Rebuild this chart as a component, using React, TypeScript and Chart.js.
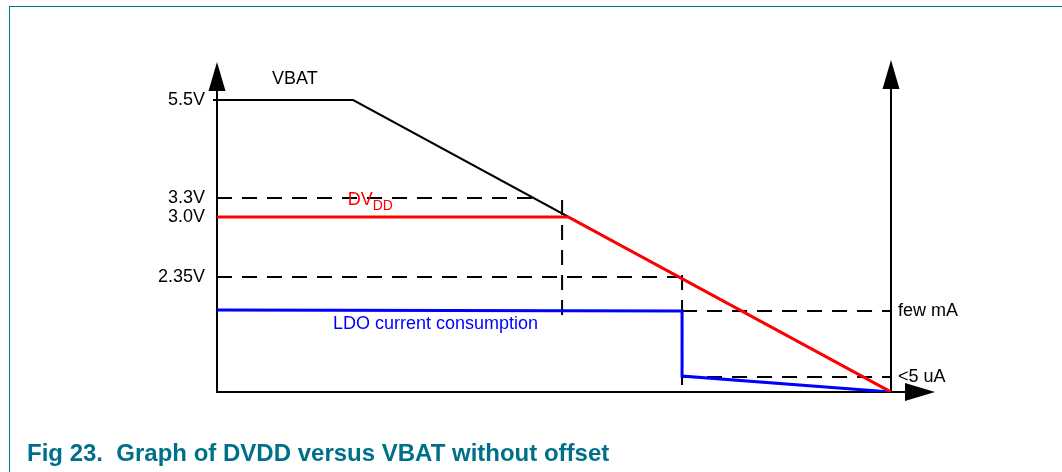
import React, { useEffect, useRef } from "react";
import { Chart, registerables } from "chart.js";

Chart.register(...registerables);

// ---- Data (diagram units: x 0..100 along time axis, y in level units above the x axis) ----
const vbatX = [0, 20.2, 100];
const vbatY = [292, 292, 0];
const dvddX = [0, 52.1, 100];
const dvddY = [175, 175, 0];
const ldoX = [0, 69.0, 69.0, 100];
const ldoY = [82, 81, 16, 0];

// dashed guide lines
const guide33X = [0, 47.0];
const guide33Y = [194, 194];
const guide235X = [0, 68.5];
const guide235Y = [115, 115];
const guideFewX = [69.0, 100];
const guideFewY = [81, 81];
const guide5uX = [69.0, 100];
const guide5uY = [15, 15];
const vGuide1X = [51.2, 51.2];
const vGuide1Y = [192, 71];
const vGuide2X = [69.0, 69.0];
const vGuide2Y = [117, 7];

// tick labels
const leftTickValues = [292, 194, 175, 115];
const leftTickLabels = ["5.5V", "3.3V", "3.0V", "2.35V"];
const rightTickValues = [81, 15];
const rightTickLabels = ["few mA", "<5 uA"];

// in-plot labels
const labelTexts = ["VBAT", "DV", "LDO current consumption"];
const labelSubs = ["", "DD", ""];
const labelX = [8.16, 19.4, 17.2];
const labelY = [312.5, 192, 67.5];
const labelColors = ["#000000", "#ff0000", "#0000ff"];

const caption = "Fig 23.\u00a0\u00a0Graph of DVDD versus VBAT without offset";

const FONT = "'Liberation Sans', Arial, sans-serif";
const FS = 18;

const pts = (xs: number[], ys: number[]) => xs.map((x, i) => ({ x, y: ys[i] }));

const diagramPlugin = {
  id: "diagram",
  beforeDatasetsDraw(chart: any) {
    const { ctx, chartArea } = chart;
    const { left, right, top, bottom } = chartArea;
    ctx.save();
    ctx.strokeStyle = "#000";
    ctx.fillStyle = "#000";
    ctx.lineWidth = 2;
    // left axis
    ctx.beginPath();
    ctx.moveTo(left, bottom);
    ctx.lineTo(left, top + 20);
    ctx.stroke();
    // right axis
    ctx.beginPath();
    ctx.moveTo(right, bottom);
    ctx.lineTo(right, top + 20);
    ctx.stroke();
    // x axis
    ctx.beginPath();
    ctx.moveTo(left - 1, bottom);
    ctx.lineTo(right + 20, bottom);
    ctx.stroke();
    // arrowheads
    const up = (x: number, y: number) => {
      ctx.beginPath();
      ctx.moveTo(x, y);
      ctx.lineTo(x - 8.5, y + 29);
      ctx.lineTo(x + 8.5, y + 29);
      ctx.closePath();
      ctx.fill();
    };
    up(left, top);
    up(right, top - 2);
    ctx.beginPath();
    ctx.moveTo(right + 44, bottom);
    ctx.lineTo(right + 14, bottom - 9);
    ctx.lineTo(right + 14, bottom + 9);
    ctx.closePath();
    ctx.fill();
    // small tick at 5.5V
    const ys = chart.scales.y;
    ctx.beginPath();
    ctx.moveTo(left - 4, ys.getPixelForValue(leftTickValues[0]));
    ctx.lineTo(left, ys.getPixelForValue(leftTickValues[0]));
    ctx.stroke();
    ctx.restore();
  },
  afterDatasetsDraw(chart: any) {
    const { ctx } = chart;
    const xs = chart.scales.x;
    const ys = chart.scales.y;
    ctx.save();
    ctx.textBaseline = "middle";
    ctx.textAlign = "left";
    labelTexts.forEach((t, i) => {
      const px = xs.getPixelForValue(labelX[i]);
      const py = ys.getPixelForValue(labelY[i]);
      ctx.fillStyle = labelColors[i];
      ctx.font = `${FS}px ${FONT}`;
      ctx.fillText(t, px, py);
      if (labelSubs[i]) {
        const w = ctx.measureText(t).width;
        ctx.font = `14px ${FONT}`;
        ctx.fillText(labelSubs[i], px + w, py + 6);
      }
    });
    ctx.restore();
  },
};

export default function App() {
  const canvasRef = useRef<HTMLCanvasElement | null>(null);

  useEffect(() => {
    if (!canvasRef.current) return;
    const solid = (label: string, xs: number[], ys: number[], color: string, w: number) => ({
      label,
      data: pts(xs, ys),
      borderColor: color,
      backgroundColor: color,
      borderWidth: w,
      pointRadius: 0,
      fill: false,
      tension: 0,
    });
    const dashed = (label: string, xs: number[], ys: number[]) => ({
      label,
      data: pts(xs, ys),
      borderColor: "#000",
      borderWidth: 2,
      borderDash: [15, 10],
      pointRadius: 0,
      fill: false,
      tension: 0,
    });
    const chart = new Chart(canvasRef.current, {
      type: "line",
      data: {
        datasets: [
          solid("DVDD", dvddX, dvddY, "#ff0000", 3),
          solid("LDO current consumption", ldoX, ldoY, "#0000ff", 3),
          solid("VBAT", vbatX, vbatY, "#000000", 2),
          dashed("3.3V", guide33X, guide33Y),
          dashed("2.35V", guide235X, guide235Y),
          dashed("few mA", guideFewX, guideFewY),
          dashed("<5 uA", guide5uX, guide5uY),
          dashed("v1", vGuide1X, vGuide1Y),
          dashed("v2", vGuide2X, vGuide2Y),
        ] as any,
      },
      options: {
        animation: false,
        responsive: false,
        devicePixelRatio: 1,
        layout: { padding: { left: 157, right: 71, top: 62, bottom: 80 } },
        plugins: { legend: { display: false }, tooltip: { enabled: false }, title: { display: false } },
        scales: {
          x: { type: "linear", min: 0, max: 100, display: false },
          y: {
            type: "linear",
            position: "left",
            min: 0,
            max: 330,
            grid: { display: false, drawTicks: false },
            border: { display: false },
            ticks: {
              padding: 12,
              color: "#000",
              font: { family: FONT, size: FS },
              autoSkip: false,
              callback: (v: any) => {
                const i = leftTickValues.indexOf(Number(v));
                return i >= 0 ? leftTickLabels[i] : "";
              },
            },
            afterBuildTicks: (s: any) => {
              s.ticks = leftTickValues.map((value) => ({ value }));
            },
            afterFit: (s: any) => {
              s.width = 60;
            },
          },
          y2: {
            type: "linear",
            position: "right",
            min: 0,
            max: 330,
            grid: { display: false, drawTicks: false },
            border: { display: false },
            ticks: {
              padding: 7,
              color: "#000",
              font: { family: FONT, size: FS },
              autoSkip: false,
              callback: (v: any) => {
                const i = rightTickValues.indexOf(Number(v));
                return i >= 0 ? rightTickLabels[i] : "";
              },
            },
            afterBuildTicks: (s: any) => {
              s.ticks = rightTickValues.map((value) => ({ value }));
            },
            afterFit: (s: any) => {
              s.width = 100;
            },
          },
        },
      } as any,
      plugins: [diagramPlugin],
    });
    return () => chart.destroy();
  }, []);

  return (
    <div style={{ position: "fixed", left: 0, top: 0, width: 1062, height: 472, background: "#fff", overflow: "hidden" }}>
      <div
        style={{
          position: "absolute",
          left: 9,
          top: 6,
          width: 1060,
          height: 480,
          borderTop: "1.5px solid #00788f",
          borderLeft: "1.5px solid #00788f",
          boxSizing: "border-box",
        }}
      />
      <canvas ref={canvasRef} width={1062} height={472} style={{ position: "absolute", left: 0, top: 0, width: 1062, height: 472 }} />
      <div
        style={{
          position: "absolute",
          left: 27,
          top: 440,
          fontFamily: FONT,
          fontWeight: "bold",
          fontSize: 24,
          color: "#00708a",
          whiteSpace: "pre",
          lineHeight: "26px",
        }}
      >
        {caption}
      </div>
    </div>
  );
}
